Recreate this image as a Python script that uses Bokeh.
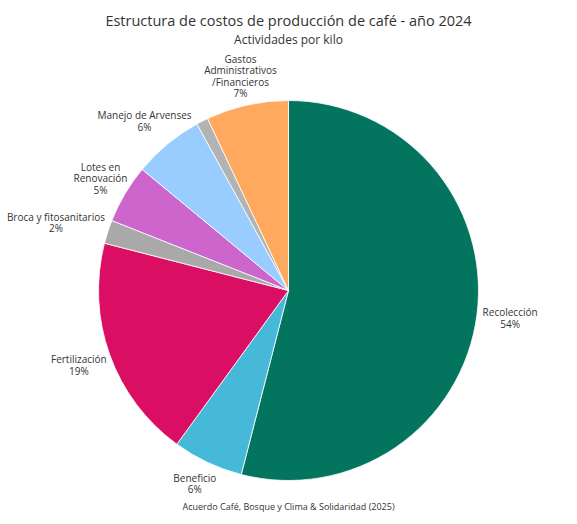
import math
from bokeh.plotting import figure
from bokeh.models import Range1d, ColumnDataSource
from bokeh.core.properties import value
from bokeh.embed import file_html
from bokeh.resources import INLINE

# ---------------- data ----------------
categorias = ["Recolección", "Beneficio", "Fertilización", "Broca y fitosanitarios",
              "Lotes en Renovación", "Manejo de Arvenses", "Otros",
              "Gastos Administrativos/Financieros"]
valores = [54, 6, 19, 2, 5, 6, 1, 7]
etiquetas = ["Recolección", "Beneficio", "Fertilización", "Broca y fitosanitarios",
             "Lotes en\nRenovación", "Manejo de Arvenses", "",
             "Gastos\nAdministrativos\n/Financieros"]
colores = ["#03755F", "#45B9D7", "#DA0F63", "#A9A9A9",
           "#CC66CC", "#99CCFF", "#B3B3B3", "#FFA95E"]

titulo = "Estructura de costos de producción de café - año 2024"
subtitulo = "Actividades por kilo"
fuente = "Acuerdo Café, Bosque y Clima & Solidaridad (2025)"

# ---------------- layout ----------------
W, H = 577, 524
PAGE_H = 524
FONT = "Open Sans"
TXT = "#333333"


def py(y_px):
    """page pixel y (top-down) -> data y (bottom-up)"""
    return PAGE_H - y_px


CX, CY_PX = 288, 290
CY = py(CY_PX)
R = 190
R_LABEL_Y = 220
R_LABEL_X = 196
LABEL_PX = 10
LINE_PX = 11
PLOT_BOTTOM_PX = 494

_w = {" ": 0.26, "i": 0.25, "j": 0.25, "l": 0.25, "í": 0.25, "f": 0.34, "t": 0.34,
      "r": 0.41, "s": 0.46, "c": 0.48, "z": 0.48, "y": 0.52, "v": 0.52, "x": 0.53,
      "k": 0.52, "a": 0.556, "e": 0.56, "é": 0.56, "o": 0.6, "ó": 0.6, "m": 0.93,
      "w": 0.8, "/": 0.37, "%": 0.86, "n": 0.61, "ñ": 0.61, "u": 0.61}


def text_width(s, px):
    tot = 0.0
    for ch in s:
        if ch in _w:
            tot += _w[ch]
        elif ch.isdigit():
            tot += 0.572
        elif ch.isupper():
            tot += 0.64
        else:
            tot += 0.6
    return tot * px


total = float(sum(valores))
starts, ends = [], []
lx, ly, ltxt = [], [], []
cum = 0.0
for v, lab in zip(valores, etiquetas):
    f0 = cum / total
    f1 = (cum + v) / total
    cum += v
    starts.append(math.pi / 2 - 2 * math.pi * f1)
    ends.append(math.pi / 2 - 2 * math.pi * f0)
    if not lab:
        continue
    mid = 2 * math.pi * (f0 + f1) / 2  # clockwise from top
    ux, uy = math.sin(mid), math.cos(mid)
    txt = f"{lab}\n{round(v / total * 100)}%"
    lines = txt.split("\n")
    y_px = CY_PX - R_LABEL_Y * uy
    y_px = min(y_px, PLOT_BOTTOM_PX - len(lines) * LINE_PX / 2)
    dy = CY_PX - y_px
    if abs(dy) >= R_LABEL_X - 6:
        x = CX + R_LABEL_Y * ux
    else:
        wmax = max(text_width(s, LABEL_PX) for s in lines)
        edge = math.sqrt(R_LABEL_X ** 2 - dy ** 2)
        if ux >= 0:
            x = CX + edge + wmax / 2
        else:
            x = CX - edge - wmax / 2
    lx.append(x)
    ly.append(py(y_px))
    ltxt.append(txt)

src = ColumnDataSource(dict(cat=categorias, val=valores, start=starts, end=ends, color=colores))
lsrc = ColumnDataSource(dict(x=lx, y=ly, text=ltxt))

p = figure(width=W, height=H, x_range=Range1d(0, W), y_range=Range1d(PAGE_H - H, PAGE_H),
           output_backend="svg", toolbar_location=None, min_border=0,
           x_axis_location=None, y_axis_location=None, title=None)
p.grid.visible = False
p.outline_line_color = None
p.background_fill_color = "white"
p.border_fill_color = "white"

p.wedge(x=CX, y=CY, radius=R, start_angle="start", end_angle="end",
        fill_color="color", line_color="white", line_width=0.8, source=src)

p.text(x="x", y="y", text="text", source=lsrc, text_align="center",
       text_baseline="middle", text_font=value(FONT), text_font_size=f"{LABEL_PX}px",
       text_line_height=0.82, text_color=TXT)

p.text(x=[288], y=[py(20)], text=[titulo], text_align="center", text_baseline="middle",
       text_font=value(FONT), text_font_size="14.5px", text_color=TXT)
p.text(x=[288], y=[py(38.5)], text=[subtitulo], text_align="center", text_baseline="middle",
       text_font=value(FONT), text_font_size="12px", text_color=TXT)
p.text(x=[288], y=[py(506)], text=[fuente], text_align="center", text_baseline="middle",
       text_font=value(FONT), text_font_size="9px", text_color=TXT)

open("out.html", "w").write(file_html(p, INLINE))
